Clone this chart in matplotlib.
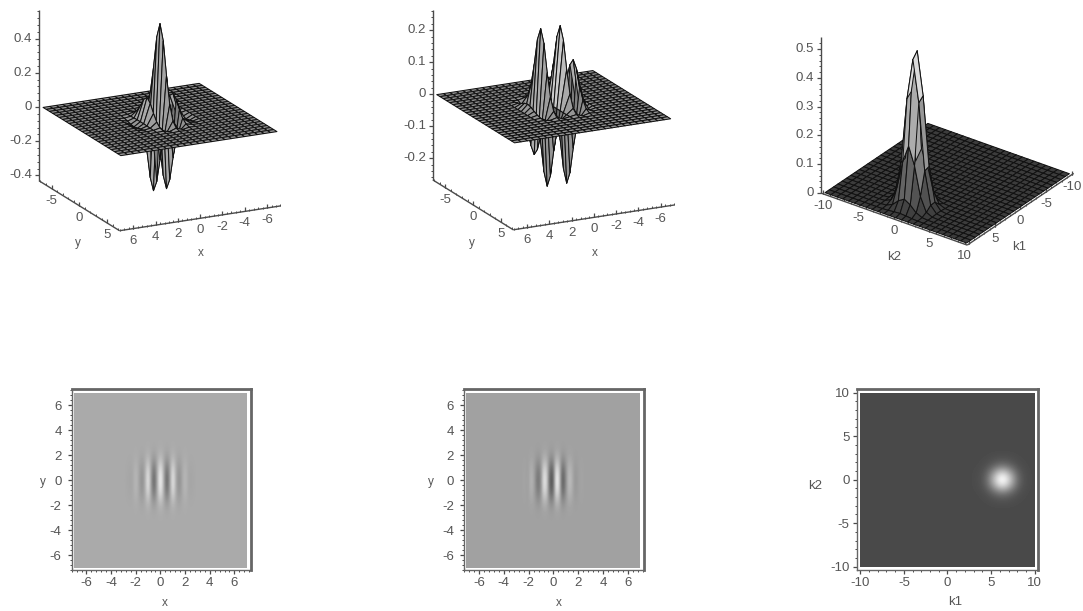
import numpy as np
import matplotlib
matplotlib.use("Agg")
import matplotlib.pyplot as plt
from matplotlib.patches import Rectangle
from mpl_toolkits.mplot3d import proj3d

plt.rcParams['font.family'] = ['Liberation Sans', 'DejaVu Sans']
plt.rcParams['axes.unicode_minus'] = False

# ---------- values ----------
# Surface 1: z along x at the 25 mesh nodes (y = 0), and relative envelope along y
S1_X = [0, 0, 0, 0, 0, 0, 0, 0, -.02, .005, .14, -.41, .56, -.41, .14, .005, -.02,
        0, 0, 0, 0, 0, 0, 0, 0]
S1_Y = [0, 0, 0, 0, 0, 0, .002, .014, .066, .22, .50, .84, 1.0, .84, .50, .22, .066, .014, .002,
        0, 0, 0, 0, 0, 0]
# Surface 2
S2_X = [0, 0, 0, 0, 0, 0, 0, 0, -.02, .1375, -.245, .25, 0, -.245, .25, -.14, .02,
        0, 0, 0, 0, 0, 0, 0, 0]
S2_Y = S1_Y
# Surface 3: along k1 and k2
S3_K1 = [0, 0, 0, 0, 0, 0, 0, 0, 0, 0, 0, 0, 0, 0, 0, 0, .002, .03, .18, .53, .51, .22, .045, .005, 0]
S3_K2 = [0, 0, 0, 0, 0, 0, 0, 0, .005, .05, .27, .72, 1.0, .72, .27, .05, .005, 0, 0, 0, 0, 0, 0, 0, 0]

# Density plots: stripes sampled every 0.25 on -3..3 and envelope every 0.5 on -3..3
D1_X = [0, -.01, -.03, -.02, .10, -.02, -.18, 0, .42, -.10, -.45, .05, .50,
        .05, -.45, -.10, .42, 0, -.18, -.02, .10, -.02, -.03, -.01, 0]
D2_X = [0, 0, 0, .01, -.01, .06, 0, -.12, -.08, .18, .14, -.18, -.20, .22,
        .14, -.20, -.08, .08, .05, -.03, -.01, .01, 0, 0, 0]
D_Y = [.01, .05, .18, .42, .72, .92, 1.0, .92, .72, .42, .18, .05, .01]
# Density 3: blob on k1 (every 0.5 from 2.5 to 10) and k2 (every 0.5 from -4 to 4)
D3_K1 = [0, .004, .01, .035, .10, .22, .36, .48, .485, .38, .24, .11, .04, .012, .003, 0]
D3_K2 = [0, 0, .01, .04, .12, .30, .60, .88, 1.0, .88, .60, .30, .12, .04, .01, 0, 0]

XY_MAJOR = [-6, -4, -2, 0, 2, 4, 6]
K_MAJOR = [-10, -5, 0, 5, 10]
Y3D_MAJOR = [-5, 0, 5]
Z1_MAJOR = [-0.4, -0.2, 0, 0.2, 0.4]
Z2_MAJOR = [-0.2, -0.1, 0, 0.1, 0.2]
Z3_MAJOR = [0, 0.1, 0.2, 0.3, 0.4, 0.5]

W, H = 1083, 611
fig = plt.figure(figsize=(W / 100, H / 100), dpi=100, facecolor='white')
AX_C = '#4a4a4a'
TXT = '#555555'


def ftext(px, py, s, size=8.5, ha='center'):
    fig.text(px / W, 1 - py / H, s, ha=ha, va='center', color=TXT, fontsize=size)


def fmt(v):
    return f'{v:g}'


def surface3d(center, s, sz, elev, azim, lim, zlim, xn, yn, zx, zy, norm, xt, yt, zt,
              xminor, yminor, zminor, xlabels=None):
    ax = fig.add_axes([0, 0, .5, .5 * W / H], projection='3d', proj_type='ortho')
    ax.patch.set_alpha(0)
    ax.view_init(elev=elev, azim=azim, roll=0)
    ax.set_box_aspect((2 * lim * s, 2 * lim * s, (zlim[1] - zlim[0]) * sz))
    X, Y = np.meshgrid(xn, yn)
    Z = np.outer(zy, zx)
    surf = ax.plot_surface(X, Y, Z, rstride=1, cstride=1, cmap='gray', vmin=norm[0], vmax=norm[1],
                           edgecolor='#101010', linewidth=.72, shade=False, antialiased=True)
    surf.set_clip_on(False)
    ax.set_xlim(-lim, lim)
    ax.set_ylim(-lim, lim)
    ax.set_zlim(*zlim)
    ax.set_xticks([])
    ax.set_yticks([])
    ax.set_zticks([])
    ax.set_axis_off()

    # axis box edges
    z0 = zlim[0]
    a = np.radians(azim)
    left = np.array([np.sin(a), -np.cos(a)]) / s   # one pixel to the left on screen
    def line(xs, ys, zs, lw=1.0):
        l, = ax.plot(xs, ys, zs, color=AX_C, lw=lw, solid_capstyle='butt')
        l.set_clip_on(False)
    line([lim, lim], [-lim, -lim], [z0, zlim[1]])
    line([lim, lim], [-lim, lim], [z0, z0])
    line([lim, -lim], [lim, lim], [z0, z0])
    zpx = 1 / (sz * np.cos(np.radians(elev)))
    for v in xminor:
        line([v, v], [lim, lim], [z0, z0 + 2 * zpx], .7)
    for v in yminor:
        line([lim, lim], [v, v], [z0, z0 + 2 * zpx], .7)
    for v in zminor:
        line([lim, lim + 2 * left[0]], [-lim, -lim + 2 * left[1]], [v, v], .7)
    for v in xt:
        line([v, v], [lim, lim], [z0, z0 + 4 * zpx], .9)
    for v in yt:
        line([lim, lim], [v, v], [z0, z0 + 4 * zpx], .9)
    for v in zt:
        line([lim, lim + 4 * left[0]], [-lim, -lim + 4 * left[1]], [v, v], .9)

    # put the projected z=0 centre at the wanted pixel with the wanted scale
    def pix(x, y, z):
        ax.apply_aspect()
        u, v, _ = proj3d.proj_transform(x, y, z, ax.get_proj())
        return ax.transData.transform((u, v))
    d = np.hypot(*(pix(lim, 0, 0) - pix(-lim, 0, 0)))
    want = 2 * lim * s * np.hypot(np.sin(a), np.cos(a) * np.sin(np.radians(elev)))
    w_px = .5 * W * want / d
    ax.set_position([0, 0, w_px / W, w_px / H])
    p = pix(0, 0, 0)
    l = (center[0] - p[0]) / W
    b = ((H - center[1]) - p[1]) / H
    ax.set_position([l, b, w_px / W, w_px / H])

    # tick labels, placed where the axes project to
    def label(x, y, z, s_, ha='center'):
        q = pix(x, y, z)
        ftext(q[0], H - q[1], s_, 9.5, ha)
    for v in (xlabels if xlabels is not None else xt):
        label(v, lim, z0 - 12 * zpx, fmt(v))
    for v in yt:
        label(lim, v, z0 - 12 * zpx, fmt(v))
    for v in zt:
        label(lim + 7 * left[0], -lim + 7 * left[1], v, fmt(v), 'right')
    return ax


def density(frame, xl, yl, span, img, norm, major, minor, pad_y, pad_x=2.2):
    left, right, top, bottom = frame
    ax = fig.add_axes([left / W, 1 - bottom / H, (right - left) / W, (bottom - top) / H])
    hx = span / (img.shape[1] - 1)
    hy = span / (img.shape[0] - 1)
    im = ax.imshow(img, origin='lower',
                   extent=(-span / 2 - hx / 2, span / 2 + hx / 2, -span / 2 - hy / 2, span / 2 + hy / 2),
                   cmap='gray', vmin=norm[0], vmax=norm[1], interpolation='bicubic', aspect='auto')
    im.set_clip_path(Rectangle((-span / 2, -span / 2), span, span, transform=ax.transData))
    ax.set_xlim(*xl)
    ax.set_ylim(*yl)
    ax.set_xticks(major)
    ax.set_yticks(major)
    ax.set_xticks(minor, minor=True)
    ax.set_yticks(minor, minor=True)
    ax.set_xticklabels([fmt(v) for v in major])
    ax.set_yticklabels([fmt(v) for v in major])
    ax.tick_params(which='major', length=3, width=.9, color=AX_C, labelcolor=TXT, labelsize=9.5)
    ax.tick_params(which='minor', length=1.6, width=.7, color=AX_C)
    ax.tick_params(axis='x', pad=pad_x)
    ax.tick_params(axis='y', pad=pad_y)
    for name, lw in (('top', 2), ('right', 2), ('left', 1), ('bottom', 1)):
        ax.spines[name].set_linewidth(lw)
        ax.spines[name].set_color('#666666')
    return ax


nodes_xy = np.linspace(-7, 7, 25)
nodes_k = np.linspace(-10, 10, 25)
view1 = dict(elev=18, azim=63.5)

surface3d((160, 119.5), 12.46, 179.8, lim=7.23, zlim=(-.432, .568), xn=nodes_xy, yn=nodes_xy,
          zx=S1_X, zy=S1_Y, norm=(-.55, .38), xt=XY_MAJOR, yt=Y3D_MAJOR, zt=Z1_MAJOR,
          xminor=np.arange(-7.2, 7.3, .4), yminor=np.arange(-7, 7.1, 1), zminor=np.arange(-.4, .57, .04), **view1)
surface3d((553.7, 106.7), 12.46, 336.5, lim=7.23, zlim=(-.268, .263), xn=nodes_xy, yn=nodes_xy,
          zx=S2_X, zy=S2_Y, norm=(-.3, .22), xt=XY_MAJOR, yt=Y3D_MAJOR, zt=Z2_MAJOR,
          xminor=np.arange(-7.2, 7.3, .4), yminor=np.arange(-7, 7.1, 1), zminor=np.arange(-.26, .263, .02), **view1)
surface3d((947.2, 183.2), 8.75, 330, elev=29.3, azim=36, lim=10.35, zlim=(0, .543), xn=nodes_k, yn=nodes_k,
          zx=S3_K1, zy=S3_K2, norm=(-.17, .55), xt=[-10, -5, 0, 5, 10], yt=K_MAJOR, zt=Z3_MAJOR,
          xminor=np.arange(-10, 10.1, 1), yminor=np.arange(-10, 10.1, 1), zminor=np.arange(0, .54, .02),
          xlabels=[-10, -5, 0, 5])

ftext(201, 253, 'x'); ftext(78, 243, 'y')
ftext(595, 253, 'x'); ftext(472, 243, 'y')
ftext(894, 257, 'k2', 9.5); ftext(1019, 247, 'k1', 9.5)

# density plots --------------------------------------------------
env = np.pad(np.array(D_Y, float), 8)   # 0.5 steps out to +-7
img1 = np.outer(env, np.pad(np.array(D1_X, float), 16))  # 0.25 steps out to +-7
img2 = np.outer(env, np.pad(np.array(D2_X, float), 16))
minor_xy = np.arange(-7.2, 7.3, .4)
density((71.7, 251, 389.3, 570), (-7.06, 7.35), (-7.2, 7.26), 14, img1, (-1.0, .5),
        XY_MAJOR, minor_xy, 4.2)
density((464, 644, 389.3, 570), (-7.18, 7.29), (-7.2, 7.26), 14, img2, (-.41, .24),
        XY_MAJOR, minor_xy, 4.2)

k1_env = np.pad(np.array(D3_K1, float), (25, 0))       # 0.5 steps from -10
k2_env = np.pad(np.array(D3_K2, float), 12)
img3 = np.outer(k2_env, k1_env)
density((857.3, 1038.3, 389.3, 570), (-10.34, 10.41), (-10.38, 10.39), 20, img3, (-.204, .5),
        K_MAJOR, np.arange(-10, 10.1, 1), 2.5)

ftext(165, 603, 'x'); ftext(43, 482, 'y')
ftext(559, 603, 'x'); ftext(431, 482, 'y')
ftext(955, 602, 'k1', 9.5); ftext(815, 486, 'k2', 9.5)

fig.savefig('out.png', dpi=100, facecolor='white')
